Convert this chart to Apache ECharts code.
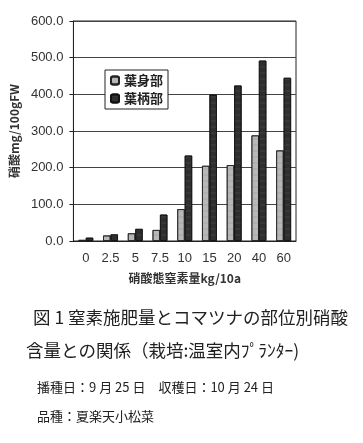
<!DOCTYPE html>
<html><head><meta charset="utf-8">
<script src="https://cdn.jsdelivr.net/npm/echarts@6/dist/echarts.min.js"></script>
<style>html,body{margin:0;padding:0;background:#fff;}#c{width:363px;height:443px;}</style>
</head><body><div id="c"></div>
<script>
const categories = ['0','2.5','5','7.5','10','15','20','40','60'];
const bladeValues = [3, 15, 21, 30, 87, 205, 207, 288, 247];
const petioleValues = [9, 18, 33, 72, 233, 399, 424, 492, 445];
const seriesNames = ['葉身部', '葉柄部'];
const yTicks = [0, 600, 100];
const captionLines = ['図 1 窒素施肥量とコマツナの部位別硝酸', '含量との関係（栽培:温室内ﾌﾟﾗﾝﾀｰ)', '播種日：9 月 25 日　収穫日：10 月 24 日', '品種：夏楽天小松菜'];

const font = '"Liberation Sans", Arial, "Noto Sans CJK JP", sans-serif';
const chart = echarts.init(document.getElementById('c'));
chart.setOption({
  animation: false,
  backgroundColor: '#fff',
  grid: {left: 72, right: 67, top: 21, bottom: 202, show: true, borderColor: '#222', borderWidth: 1},
  legend: {
    data: seriesNames, orient: 'vertical', left: 105, top: 70,
    itemWidth: 8, itemHeight: 8, itemGap: 5,
    borderColor: '#222', borderWidth: 1, padding: [4, 5, 4, 5],
    textStyle: {fontSize: 13, color: '#222', fontFamily: '"Noto Sans CJK JP"', fontWeight: 'bold'},
    backgroundColor: '#fff'
  },
  xAxis: {
    type: 'category', data: categories,
    axisLine: {lineStyle: {color: '#222'}},
    axisTick: {inside: true, length: 3, lineStyle: {color: '#222'}},
    axisLabel: {color: '#333', fontSize: 13, fontFamily: font, margin: 11},
    name: '硝酸態窒素量kg/10a', nameLocation: 'middle', nameGap: 31,
    nameTextStyle: {color: '#333', fontSize: 12, fontFamily: '"Noto Sans CJK JP"', fontWeight: 'bold'}
  },
  yAxis: {
    type: 'value', min: yTicks[0], max: yTicks[1], interval: yTicks[2],
    axisLine: {show: true, lineStyle: {color: '#222'}},
    axisTick: {show: true, length: 4, lineStyle: {color: '#222'}},
    splitLine: {lineStyle: {color: '#444', width: 1}},
    axisLabel: {color: '#333', fontSize: 13, fontFamily: font, margin: 10, formatter: v => v.toFixed(1)},
    name: '硝酸mg/100gFW', nameLocation: 'middle', nameGap: 46,
    nameTextStyle: {color: '#333', fontSize: 12, fontFamily: '"Noto Sans CJK JP"', fontWeight: 'bold'}
  },
  series: [
    {name: seriesNames[0], type: 'bar', data: bladeValues, barGap: '0%', barCategoryGap: '40%',
     itemStyle: {color: '#b8b8b8', borderColor: '#222', borderWidth: 0.8,
       decal: {symbol: 'rect', symbolSize: 0.5, color: 'rgba(90,90,90,0.35)', dashArrayX: [1, 0], dashArrayY: [2, 4]}}},
    {name: seriesNames[1], type: 'bar', data: petioleValues,
     itemStyle: {color: '#2e2e2e', borderColor: '#111', borderWidth: 0.8,
       decal: {symbol: 'rect', symbolSize: 0.5, color: 'rgba(150,150,150,0.35)', dashArrayX: [1, 0], dashArrayY: [2, 4]}}}
  ],
  graphic: [
    {type: 'text', left: 33, top: 309, style: {text: captionLines[0], fontSize: 17.5, fill: '#222', fontFamily: '"Noto Sans CJK JP"'}},
    {type: 'text', left: 26, top: 342, style: {text: captionLines[1], fontSize: 17.5, fill: '#222', fontFamily: '"Noto Sans CJK JP"'}},
    {type: 'text', left: 37, top: 381, style: {text: captionLines[2], fontSize: 13, fill: '#222', fontFamily: '"Noto Sans CJK JP"'}},
    {type: 'text', left: 37, top: 410, style: {text: captionLines[3], fontSize: 13, fill: '#222', fontFamily: '"Noto Sans CJK JP"'}}
  ]
});
</script></body></html>
